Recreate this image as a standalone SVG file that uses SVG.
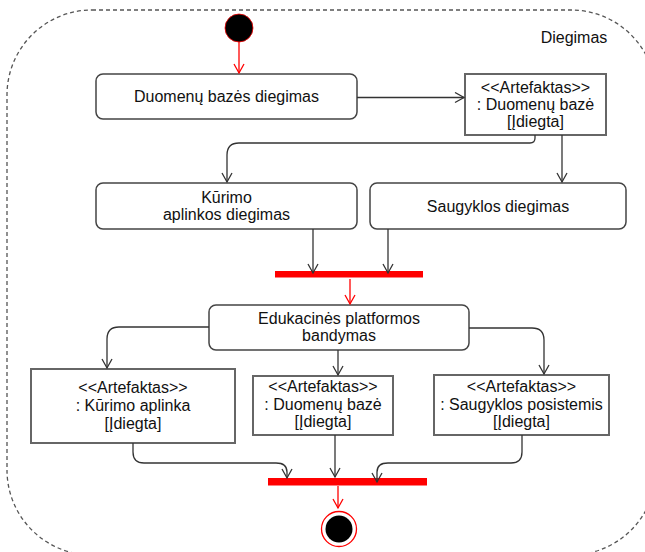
<svg xmlns="http://www.w3.org/2000/svg" width="645" height="552" viewBox="0 0 645 552">
<defs>
<style>
.t{font-family:"Liberation Sans",Arial,sans-serif;font-size:16px;fill:#111;text-anchor:middle}
.act{fill:#fff;stroke:#444;stroke-width:1.5}
.art{fill:#fff;stroke:#666;stroke-width:2}
.c{fill:none;stroke:#333;stroke-width:1.3}
.r{fill:none;stroke:#f00;stroke-width:1.3}
.bar{fill:#f00}
</style>
<marker id="ak" viewBox="0 0 12 12" refX="10" refY="6" markerWidth="12" markerHeight="12" markerUnits="userSpaceOnUse" orient="auto">
<path d="M1,1 L10,6 L1,11" fill="none" stroke="#333" stroke-width="1.3"/>
</marker>
<marker id="ar" viewBox="0 0 12 12" refX="10" refY="6" markerWidth="12" markerHeight="12" markerUnits="userSpaceOnUse" orient="auto">
<path d="M1,1 L10,6 L1,11" fill="none" stroke="#f00" stroke-width="1.3"/>
</marker>
</defs>
<rect width="645" height="552" fill="#fff"/>
<g id="frame">
<rect x="7" y="10" width="649" height="545" rx="85" ry="85" fill="none" stroke="#555" stroke-width="1.3" stroke-dasharray="4,3"/>
<text class="t" x="574" y="43">Diegimas</text>
</g>
<g id="start"><circle cx="239" cy="28" r="14" fill="#000" stroke="#f00" stroke-width="0.8"/></g>
<g id="n1"><rect class="act" x="96" y="74" width="261" height="45" rx="7"/><text class="t" x="226.5" y="102">Duomenų bazės diegimas</text></g>
<g id="a1"><rect class="art" x="465" y="74" width="141" height="61"/>
<text class="t" x="535.5" y="93">&lt;&lt;Artefaktas&gt;&gt;</text><text class="t" x="535.5" y="110">: Duomenų bazė</text><text class="t" x="535.5" y="127">[Įdiegta]</text></g>
<g id="n2"><rect class="act" x="96" y="183" width="261" height="46" rx="7"/><text class="t" x="226.5" y="203">Kūrimo</text><text class="t" x="226.5" y="220">aplinkos diegimas</text></g>
<g id="n3"><rect class="act" x="370" y="183" width="256" height="46" rx="7"/><text class="t" x="498" y="211.5">Saugyklos diegimas</text></g>
<g id="fork1"><rect class="bar" x="275" y="271" width="148" height="6.5"/></g>
<g id="n4"><rect class="act" x="209" y="305" width="260" height="45" rx="7"/><text class="t" x="339" y="324">Edukacinės platformos</text><text class="t" x="339" y="341">bandymas</text></g>
<g id="a2"><rect class="art" x="31" y="369" width="204" height="74"/>
<text class="t" x="133" y="393">&lt;&lt;Artefaktas&gt;&gt;</text><text class="t" x="133" y="411">: Kūrimo aplinka</text><text class="t" x="133" y="429">[Įdiegta]</text></g>
<g id="a3"><rect class="art" x="253" y="376" width="140" height="59"/>
<text class="t" x="323" y="392">&lt;&lt;Artefaktas&gt;&gt;</text><text class="t" x="323" y="410">: Duomenų bazė</text><text class="t" x="323" y="427">[Įdiegta]</text></g>
<g id="a4"><rect class="art" x="434" y="375" width="175" height="60"/>
<text class="t" x="521.5" y="392">&lt;&lt;Artefaktas&gt;&gt;</text><text class="t" x="521.5" y="410">: Saugyklos posistemis</text><text class="t" x="521.5" y="427">[Įdiegta]</text></g>
<g id="join2"><rect class="bar" x="268" y="478" width="159" height="7.5"/></g>
<g id="end"><circle cx="339" cy="529" r="17.5" fill="#fff" stroke="#f00" stroke-width="1.3"/><circle cx="339" cy="529" r="13.5" fill="#000"/></g>
<g id="connectors">
<path class="r" d="M239,42 L239,73" marker-end="url(#ar)"/>
<path class="c" d="M357,97.5 L464,97.5" marker-end="url(#ak)"/>
<path class="c" d="M535,135 L535,138 Q535,143 530,143 L239,143 Q227,143 227,155 L227,182" marker-end="url(#ak)"/>
<path class="c" d="M562,135 L562,182" marker-end="url(#ak)"/>
<path class="c" d="M313,229 L313,273" marker-end="url(#ak)"/>
<path class="c" d="M388,229 L388,273" marker-end="url(#ak)"/>
<path class="r" d="M350,279 L350,304" marker-end="url(#ar)"/>
<path class="c" d="M209,327 L119,327 Q107,327 107,339 L107,368" marker-end="url(#ak)"/>
<path class="c" d="M338,350 L338,375" marker-end="url(#ak)"/>
<path class="c" d="M469,328 L532,328 Q544,328 544,340 L544,374" marker-end="url(#ak)"/>
<path class="c" d="M133,443 L133,452 Q133,463 144,463 L276,463 Q287,463 287,472 L287,478" marker-end="url(#ak)"/>
<path class="c" d="M335,435 L335,477" marker-end="url(#ak)"/>
<path class="c" d="M522,435 L522,452 Q522,463 511,463 L388,463 Q377,463 377,472 L377,482" marker-end="url(#ak)"/>
<path class="r" d="M338,486 L338,508" marker-end="url(#ar)"/>
</g>
</svg>
